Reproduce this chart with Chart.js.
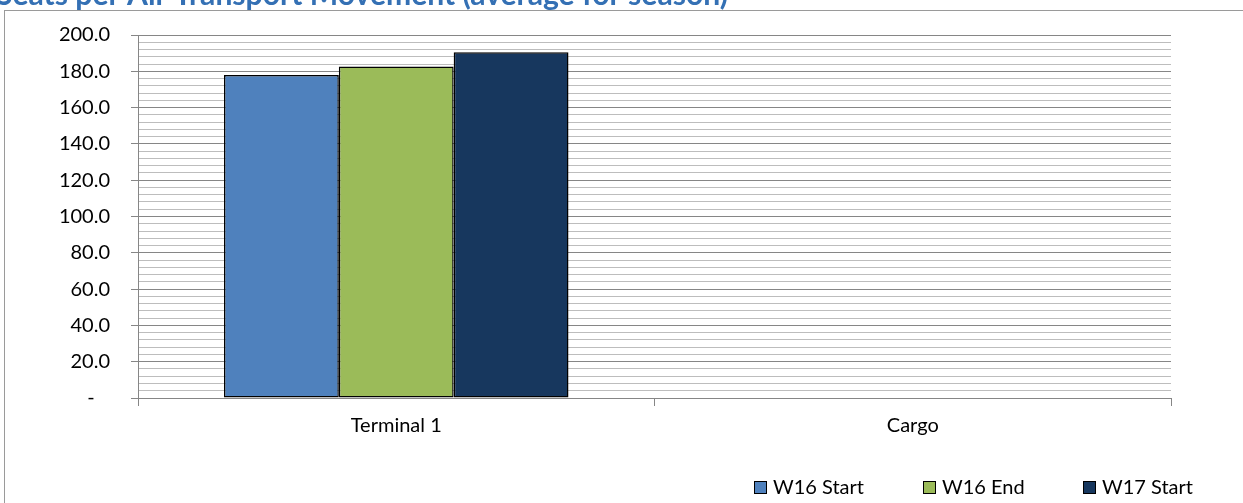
<!DOCTYPE html>
<html>
<head>
<meta charset="utf-8">
<script src="https://cdn.jsdelivr.net/npm/chart.js@4"></script>
<style>
  html, body { margin: 0; padding: 0; background: #fff; }
  #wrap { width: 1243px; height: 503px; position: relative; }
</style>
</head>
<body>
<div id="wrap"><canvas id="seatsChart"></canvas></div>
<script>
const categories = ['Terminal 1', 'Cargo'];
const seriesNames = ['W16 Start', 'W16 End', 'W17 Start'];
const w16Start = [178.0, null];
const w16End   = [182.6, null];
const w17Start = [190.5, null];
const titleText = 'Seats per Air Transport Movement (average for season)';

const COLORS = {
  series: ['#4F81BD', '#9BBB59', '#17375E'],
  major:  '#868686',
  minor:  '#bdbdbd',
  axis:   '#868686',
  label:  '#000000',
  title:  '#3470B4'
};

const FONT = "Lato, 'Open Sans', sans-serif";
Chart.defaults.font.family = FONT;
Chart.defaults.font.size   = 20;
Chart.defaults.color       = COLORS.label;

// ── frame, clipped title and legend ───────────────────────
const decor = {
  id: 'decor',
  beforeDraw(chart) {
    const c = chart.ctx;
    c.save();
    c.strokeStyle = '#9a9a9a';
    c.lineWidth = 1;
    c.strokeRect(4.5, 10.5, chart.width + 20, chart.height + 20);
    c.restore();
  },
  afterDraw(chart) {
    const c = chart.ctx;
    c.save();
    c.fillStyle = COLORS.title;
    c.textBaseline = 'alphabetic';
    c.font = "bold 24px " + FONT;
    const w = c.measureText(titleText).width;
    const size = 24 * 732 / w;
    c.font = "bold " + size.toFixed(2) + "px " + FONT;
    c.fillText(titleText, -4, 5);

    // legend
    const xs = [754, 923, 1083];
    c.font = "20px " + FONT;
    c.textBaseline = 'middle';
    chart.data.datasets.forEach((ds, i) => {
      c.fillStyle = ds.backgroundColor;
      c.fillRect(xs[i] + 0.5, 481.5, 12, 12);
      c.strokeStyle = '#000';
      c.lineWidth = 1;
      c.strokeRect(xs[i] + 0.5, 481.5, 12, 12);
      c.fillStyle = COLORS.label;
      c.fillText(ds.label, xs[i] + 19, 488);
    });
    c.restore();
  }
};

const seriesData = [w16Start, w16End, w17Start];

new Chart(document.getElementById('seatsChart'), {
  type: 'bar',
  data: {
    labels: categories,
    datasets: seriesNames.map((name, i) => ({
      label:              name,
      data:               seriesData[i],
      backgroundColor:    COLORS.series[i],
      borderColor:        '#000',
      borderWidth:        1.5,
      borderSkipped:      false,
      barPercentage:      1,
      categoryPercentage: 0.667
    }))
  },
  options: {
    responsive: true,
    maintainAspectRatio: false,
    animation: false,
    layout: { padding: { left: 0, right: 72, top: 35, bottom: 0 }, autoPadding: false },
    plugins: {
      legend:  { display: false },
      tooltip: { enabled: false }
    },
    scales: {
      x: {
        grid: {
          drawOnChartArea: false,
          tickLength: 8,
          color: COLORS.axis,
          offset: true
        },
        border: { color: COLORS.axis },
        ticks: { padding: 8, color: COLORS.label },
        afterFit: s => { s.height = 105; }
      },
      y: {
        min: 0,
        max: 200,
        grid: {
          tickLength: 7,
          color:     ctx => (Math.round(ctx.tick.value) % 20 === 0 ? COLORS.major : COLORS.minor),
          tickColor: ctx => (Math.round(ctx.tick.value) % 20 === 0 ? COLORS.major : 'rgba(0,0,0,0)')
        },
        border: { color: COLORS.axis },
        ticks: {
          stepSize: 4,
          autoSkip: false,
          maxTicksLimit: 100,
          padding: 21,
          color: COLORS.label,
          callback: v => {
            const r = Math.round(v);
            if (r % 20 !== 0) return '';
            return r === 0 ? '-   ' : r.toFixed(1);
          }
        },
        afterFit: s => { s.width = 138; }
      }
    }
  },
  plugins: [decor]
});
</script>
</body>
</html>
